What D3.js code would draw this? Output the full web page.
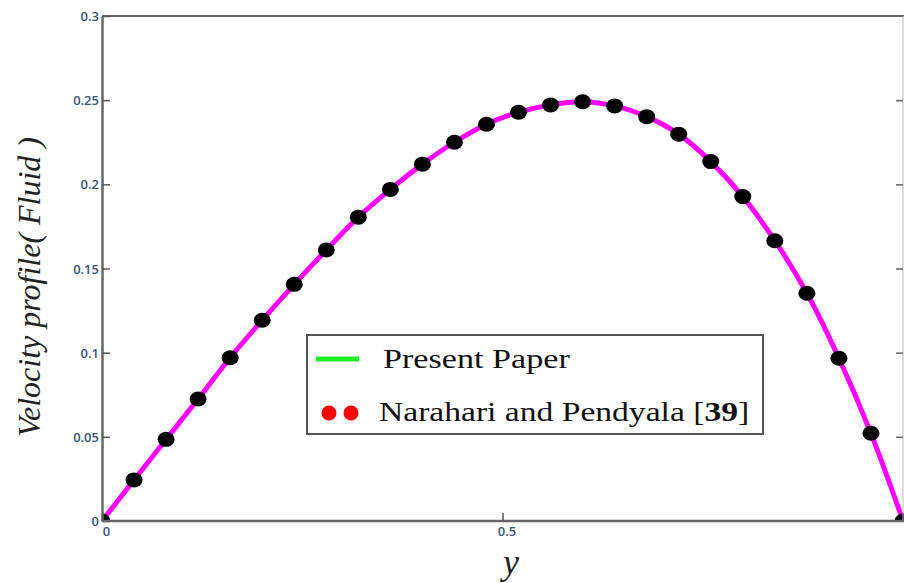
<!DOCTYPE html>
<html><head><meta charset="utf-8">
<script src="https://cdn.jsdelivr.net/npm/d3@7"></script>
<style>body{margin:0;background:#fff}svg{display:block}</style>
</head><body>
<script>
const xValues = [0,0.04,0.08,0.12,0.16,0.2,0.24,0.28,0.32,0.36,0.4,0.44,0.48,0.52,0.56,0.6,0.64,0.68,0.72,0.76,0.8,0.84,0.88,0.92,0.96,1.0];
const presentPaper = [0,0.0244,0.0485,0.0725,0.097,0.1193,0.1406,0.161,0.1805,0.197,0.212,0.225,0.2357,0.2428,0.2472,0.2491,0.2466,0.2402,0.2298,0.2135,0.1927,0.1665,0.1353,0.0967,0.0521,0];
const narahari = [0,0.0244,0.0485,0.0725,0.097,0.1193,0.1406,0.161,0.1805,0.197,0.212,0.225,0.2357,0.2428,0.2472,0.2491,0.2466,0.2402,0.2298,0.2135,0.1927,0.1665,0.1353,0.0967,0.0521,0];
const yTicks = [0,0.05,0.1,0.15,0.2,0.25,0.3];
const yTickLabels = ["0","0.05","0.1","0.15","0.2","0.25","0.3"];
const xTicks = [0,0.5];
const xTickLabels = ["0","0.5"];
const legendLabels = ["Present Paper","Narahari and Pendyala "];

const W=904,H=583;
const svg=d3.select("body").append("svg").attr("width",W).attr("height",H);
const x=d3.scaleLinear().domain([0,1]).range([102,903]);
const y=d3.scaleLinear().domain([0,0.3]).range([521,16]);
const axisCol="#666";
const tickCol="#3b5275";
const tickFont="Open Sans, DejaVu Sans, sans-serif";

svg.append("defs").append("clipPath").attr("id","plot")
  .append("rect").attr("x",102).attr("y",16).attr("width",802).attr("height",505);

// line
const pts=xValues.map((v,i)=>[v,presentPaper[i]]);
const pg=svg.append("g").attr("clip-path","url(#plot)");
pg.append("path").datum(pts)
  .attr("d",d3.line().x(d=>x(d[0])).y(d=>y(d[1])).curve(d3.curveCatmullRom))
  .attr("fill","none").attr("stroke","#ff00ff").attr("stroke-width",5);
pg.append("g").selectAll("ellipse").data(xValues.map((v,i)=>[v,narahari[i]])).join("ellipse")
  .attr("cx",d=>x(d[0])).attr("cy",d=>y(d[1])).attr("rx",8.5).attr("ry",7.5).attr("fill","#000");

// frame
svg.append("line").attr("x1",102).attr("x2",904).attr("y1",16).attr("y2",16).attr("stroke",axisCol).attr("stroke-width",2);
svg.append("line").attr("x1",903).attr("x2",903).attr("y1",16).attr("y2",521).attr("stroke","#bbb").attr("stroke-width",1);

const yl=svg.append("g").attr("transform","translate(102,0)")
  .call(d3.axisLeft(y).tickValues(yTicks).tickFormat((d,i)=>yTickLabels[i]).tickSizeInner(-8).tickSizeOuter(0).tickPadding(3));
yl.select(".domain").attr("stroke",axisCol).attr("stroke-width",2.5);
yl.selectAll(".tick line").attr("stroke","#555").attr("stroke-width",1.5);
yl.selectAll(".tick text").attr("font-family",tickFont).attr("font-weight",600).attr("font-size",13).attr("fill",tickCol).attr("dy","0.35em").attr("x",-3);

const yr=svg.append("g").attr("transform","translate(903,0)")
  .call(d3.axisRight(y).tickValues(yTicks.filter(d=>d>0&&d<0.3)).tickFormat("").tickSizeInner(-7).tickSizeOuter(0));
yr.select(".domain").remove();
yr.selectAll(".tick line").attr("stroke","#666").attr("stroke-width",1.5);

const xa=svg.append("g").attr("transform","translate(0,521)")
  .call(d3.axisBottom(x).tickValues(xTicks).tickFormat((d,i)=>xTickLabels[i]).tickSizeInner(-8).tickSizeOuter(0).tickPadding(8));
xa.select(".domain").attr("stroke",axisCol).attr("stroke-width",2.5).attr("d","M102,0H904");
xa.selectAll(".tick line").attr("stroke","#555").attr("stroke-width",1.5);
xa.selectAll(".tick text").attr("font-family",tickFont).attr("font-weight",600).attr("font-size",13).attr("fill",tickCol).attr("dx",4).attr("y",6);

// legend
const lg=svg.append("g");
lg.append("rect").attr("x",307).attr("y",335).attr("width",456).attr("height",99).attr("fill","#fff").attr("stroke","#555").attr("stroke-width",2);
lg.append("line").attr("x1",316).attr("x2",359).attr("y1",359).attr("y2",359).attr("stroke","#22ee22").attr("stroke-width",5);
lg.append("text").attr("transform","translate(383,368) scale(1.22,1)").attr("font-family","Liberation Serif, Times New Roman, serif").attr("font-size",28).attr("fill","#111").text(legendLabels[0]);
lg.selectAll("circle").data([329,351]).join("circle").attr("cx",d=>d).attr("cy",413).attr("r",7.5).attr("fill","#ff0000");
const t2=lg.append("text").attr("transform","translate(379,421) scale(1.2,1)").attr("font-family","Liberation Serif, Times New Roman, serif").attr("font-size",28).attr("fill","#111");
t2.append("tspan").text(legendLabels[1]);
t2.append("tspan").text("[");
t2.append("tspan").attr("font-weight","bold").text("39");
t2.append("tspan").text("]");

// axis titles
svg.append("text").attr("transform","translate(40,287) rotate(-90)").attr("text-anchor","middle")
  .attr("font-family","Liberation Serif, Times New Roman, serif").attr("font-style","italic").attr("font-size",32).attr("fill","#222")
  .text("Velocity profile( Fluid )");
svg.append("text").attr("x",511).attr("y",574).attr("text-anchor","middle")
  .attr("font-family","Liberation Serif, Times New Roman, serif").attr("font-style","italic").attr("font-size",36).attr("fill","#222")
  .text("y");
</script>
</body></html>
